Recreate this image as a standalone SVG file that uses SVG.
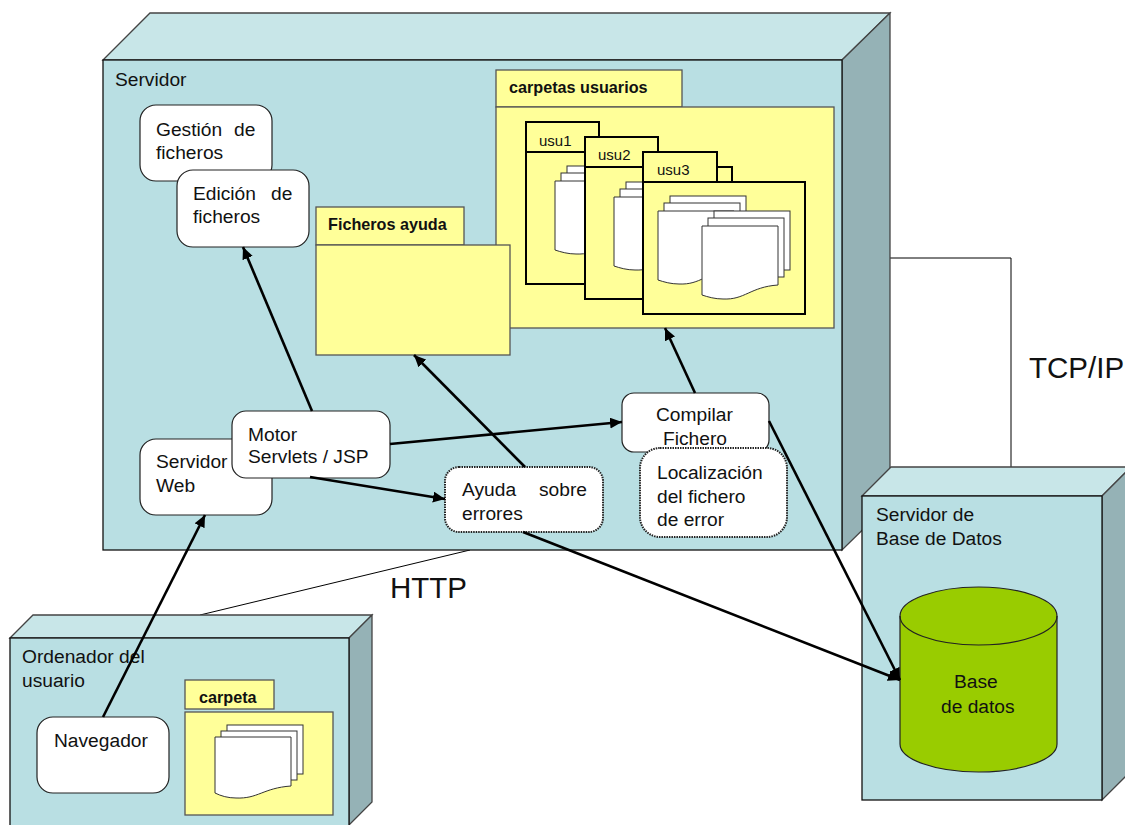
<svg xmlns="http://www.w3.org/2000/svg" xmlns:xlink="http://www.w3.org/1999/xlink" width="1125" height="825" viewBox="0 0 1125 825">
<style>
text{font-family:"Liberation Sans",Arial,sans-serif;font-size:19.2px;fill:#111}
.b{font-weight:bold;font-size:16.2px}
.u{font-size:15px}
.big{font-size:29.5px}
.front{fill:#b9dfe3;stroke:#111;stroke-width:1.3}
.top{fill:#c8e6e8;stroke:#444;stroke-width:1.3}
.side{fill:#95b2b6;stroke:#444;stroke-width:1.3}
.y{fill:#ffff99;stroke:#555;stroke-width:1.3}
.yk{fill:#ffff99;stroke:#000;stroke-width:2}
.r{fill:#fff;stroke:#222;stroke-width:1.2}
.d{fill:#fff;stroke:#222;stroke-width:2;stroke-dasharray:1.5 1}
.doc{fill:#fff;stroke:#333;stroke-width:1}
.thin{fill:none;stroke:#000;stroke-width:1}
.ar{fill:none;stroke:#000;stroke-width:2.6;marker-end:url(#ah)}
.cyl{fill:#99cc00;stroke:#222;stroke-width:1.2}
</style>
<defs>
<marker id="ah" markerUnits="userSpaceOnUse" markerWidth="13" markerHeight="11" refX="12" refY="5.5" orient="auto"><path d="M0,0L12,5.5L0,11Z" fill="#000"/></marker>
<g id="stack"><rect class="doc" x="12" y="-15" width="76" height="59"/><rect class="doc" x="6" y="-8" width="76" height="59"/><path class="doc" d="M0,0H76V59C48,61 43,74 21,73C13,73 6,71 0,69Z"/></g>
</defs>
<rect width="1125" height="825" fill="#fff"/>
<g id="thin-connectors"><path class="thin" d="M890,258H1011V467"/><path class="thin" d="M470,550L200,615"/></g>
<g id="servidor">
<path class="top" d="M103,60L150,13H890L842,60Z"/><path class="side" d="M842,60L890,13V503L842,550Z"/><rect class="front" x="103" y="60" width="739" height="490"/>
<text x="115" y="86">Servidor</text>
</g>
<g id="carpetas-usuarios">
<rect class="y" x="496" y="70" width="186" height="37"/><rect class="y" x="496" y="107" width="338" height="221"/>
<text class="b" x="509" y="93">carpetas usuarios</text>
</g>
<g id="usu1"><rect class="yk" x="526" y="122" width="73" height="30"/><rect class="yk" x="526" y="152" width="147" height="132"/><text class="u" x="539" y="146">usu1</text><use xlink:href="#stack" x="555" y="181"/></g>
<g id="usu2"><rect class="yk" x="585" y="137" width="73" height="30"/><rect class="yk" x="585" y="167" width="147" height="132"/><text class="u" x="598" y="160">usu2</text><use xlink:href="#stack" x="614" y="197"/></g>
<g id="usu3"><rect class="yk" x="643" y="152" width="74" height="30"/><rect class="yk" x="643" y="182" width="162" height="132"/><text class="u" x="657" y="175">usu3</text><use xlink:href="#stack" x="658" y="211"/><use xlink:href="#stack" x="702" y="226"/></g>
<g id="ficheros-ayuda">
<rect class="y" x="316" y="207" width="148" height="38"/><rect class="y" x="316" y="245" width="194" height="110"/>
<text class="b" x="328" y="230">Ficheros ayuda</text>
</g>
<g id="gestion"><rect class="r" x="140" y="105" width="132" height="76" rx="16"/><text x="156" y="136">Gestión</text><text x="234" y="136">de</text><text x="156" y="159">ficheros</text></g>
<g id="edicion"><rect class="r" x="177" y="170" width="132" height="77" rx="16"/><text x="193" y="200">Edición</text><text x="271" y="200">de</text><text x="193" y="223">ficheros</text></g>
<g id="servidor-web"><rect class="r" x="140" y="439" width="132" height="76" rx="16"/><text x="156" y="468">Servidor</text><text x="156" y="492">Web</text></g>
<g id="motor"><rect class="r" x="232" y="411" width="158" height="67" rx="14"/><text x="248" y="441">Motor</text><text x="248" y="463">Servlets / JSP</text></g>
<g id="ayuda"><rect class="d" x="445" y="467" width="158" height="65" rx="14"/><text x="462" y="496">Ayuda</text><text x="539" y="496">sobre</text><text x="462" y="520">errores</text></g>
<g id="compilar"><rect class="r" x="622" y="393" width="147" height="59" rx="12"/><text x="656" y="421">Compilar</text><text x="663" y="445">Fichero</text></g>
<g id="localizacion"><rect class="d" x="640" y="448" width="147" height="89" rx="20"/><text x="657" y="479">Localización</text><text x="657" y="503">del fichero</text><text x="657" y="526">de error</text></g>
<g id="ordenador">
<path class="top" d="M10,638L33,615H372L349,638Z"/><path class="side" d="M349,638L372,615V802L349,825Z"/><rect class="front" x="10" y="638" width="339" height="200"/>
<text x="22" y="663">Ordenador del</text><text x="22" y="687">usuario</text>
</g>
<g id="carpeta">
<rect class="y" x="185" y="680" width="89" height="29"/><rect class="y" x="185" y="712" width="148" height="103"/>
<text class="b" x="199" y="703">carpeta</text>
<rect class="doc" x="227" y="725" width="76" height="49"/><rect class="doc" x="221" y="731" width="76" height="49"/><path class="doc" d="M215,737H291V786C263,788 258,799 236,798C228,798 221,796 215,793Z"/>
</g>
<g id="navegador"><rect class="r" x="37" y="717" width="132" height="76" rx="16"/><text x="54" y="747">Navegador</text></g>
<g id="servidor-bd">
<path class="top" d="M862,496L891,467H1131L1102,496Z"/><path class="side" d="M1102,496L1131,467V771L1102,800Z"/><rect class="front" x="862" y="496" width="240" height="304"/>
<text x="876" y="521">Servidor de</text><text x="876" y="545">Base de Datos</text>
</g>
<g id="base-datos">
<path class="cyl" d="M900,616A78.500,29 0 0 1 1057,616V744A78.500,28 0 0 1 900,744Z"/><path class="cyl" style="fill:none" d="M900,616A78.500,29 0 0 0 1057,616"/>
<text x="954" y="688">Base</text><text x="941" y="713">de datos</text>
</g>
<g id="connectors">
<path class="ar" d="M312,411L243,247"/>
<path class="ar" d="M390,444L622,422"/>
<path class="ar" d="M310,477L445,499"/>
<path class="ar" d="M695,393L665,328"/>
<path class="ar" d="M525,467L414,355"/>
<path class="ar" d="M103,717L205,515"/>
<path class="ar" d="M769,421L900,680"/>
<path class="ar" d="M523,532L900,680"/>
</g>
<g id="labels"><text class="big" x="390" y="598">HTTP</text><text class="big" x="1029" y="378">TCP/IP</text></g>
</svg>
